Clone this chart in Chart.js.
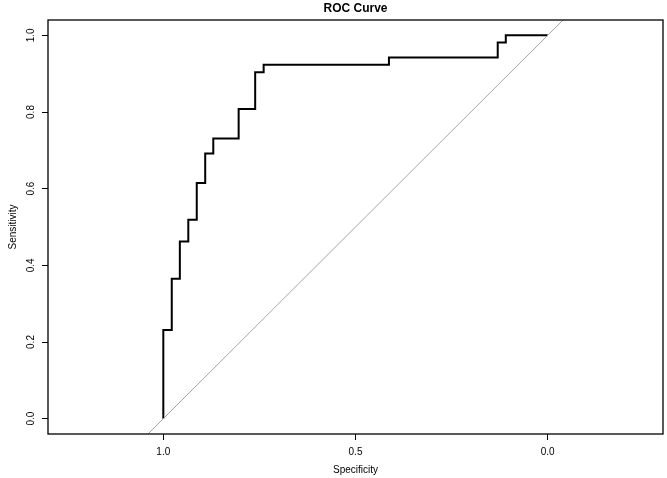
<!DOCTYPE html>
<html>
<head>
<meta charset="utf-8">
<script src="https://cdn.jsdelivr.net/npm/chart.js@4.4.1/dist/chart.umd.min.js"></script>
<style>
  html, body { margin: 0; padding: 0; background: #fff; }
  #roc { display: block; }
</style>
</head>
<body>
<canvas id="roc" width="667" height="478"></canvas>
<script>
/* --------------- ROC curve corners ------------------------------------------- */
const specificity = [1.000, 1.000, 0.978, 0.978, 0.957, 0.957, 0.935, 0.935, 0.913, 0.913,
  0.891, 0.891, 0.870, 0.870, 0.804, 0.804, 0.761, 0.761, 0.739, 0.739,
  0.413, 0.413, 0.130, 0.130, 0.109, 0.109, 0.000];
const sensitivity = [0.000, 0.231, 0.231, 0.365, 0.365, 0.462, 0.462, 0.519, 0.519, 0.615,
  0.615, 0.692, 0.692, 0.731, 0.731, 0.808, 0.808, 0.904, 0.904, 0.923,
  0.923, 0.942, 0.942, 0.981, 0.981, 1.000, 1.000];
/* --------------- Chance diagonal (sensitivity = 1 - specificity) --------------------- */
const diagSpec = [1.3, -0.3];
const diagSens = [-0.3, 1.3];
/* --------------- Tick labels --------------------- */
const xTicks = [1.0, 0.5, 0.0];
const yTicks = [0.0, 0.2, 0.4, 0.6, 0.8, 1.0];

const font = "'Liberation Sans', Arial, Helvetica, sans-serif";
const toPts = (xs, ys) => xs.map((x, i) => ({ x: x, y: ys[i] }));

/* --------------- Box around the plot, like R's box() --------------------- */
const boxPlugin = {
  id: "box",
  afterDraw(chart) {
    const { ctx, chartArea: a } = chart;
    ctx.save();
    ctx.strokeStyle = "#000";
    ctx.lineWidth = 1.3;
    ctx.strokeRect(a.left, a.top, a.right - a.left, a.bottom - a.top);
    ctx.restore();
  },
};

new Chart(document.getElementById("roc"), {
  type: "scatter",
  plugins: [boxPlugin],
  data: {
    datasets: [
      {
        data: toPts(diagSpec, diagSens),
        showLine: true,
        borderColor: "#a6a6a6",
        borderWidth: 1,
        pointRadius: 0,
      },
      {
        data: toPts(specificity, sensitivity),
        showLine: true,
        borderColor: "#000",
        borderWidth: 2,
        pointRadius: 0,
      },
    ],
  },
  options: {
    responsive: false,
    devicePixelRatio: 1,
    animation: false,
    layout: { padding: { left: 0, right: 4, top: 0, bottom: 0 } },
    plugins: {
      legend: { display: false },
      tooltip: { enabled: false },
      title: {
        display: true,
        text: "ROC Curve",
        fullSize: false,
        color: "#000",
        font: { family: font, size: 12, weight: "bold", lineHeight: 1 },
        padding: { top: 3, bottom: 5 },
      },
    },
    scales: {
      x: {
        type: "linear",
        reverse: true,
        min: -0.3,
        max: 1.3,
        afterBuildTicks: (s) => { s.ticks = xTicks.map((v) => ({ value: v })); },
        afterFit: (s) => { s.height = 44; },
        grid: { drawOnChartArea: false, drawTicks: true, tickLength: 6, color: "#000", lineWidth: 1 },
        border: { display: false },
        ticks: {
          color: "#000",
          padding: 6,
          maxRotation: 0,
          font: { family: font, size: 10 },
          callback: (v) => Number(v).toFixed(1),
        },
        title: {
          display: true,
          text: "Specificity",
          color: "#000",
          font: { family: font, size: 10 },
          padding: { top: 0, bottom: 2 },
        },
      },
      y: {
        type: "linear",
        min: -0.04,
        max: 1.04,
        afterBuildTicks: (s) => { s.ticks = yTicks.map((v) => ({ value: v })); },
        afterFit: (s) => { s.width = 48; },
        grid: { drawOnChartArea: false, drawTicks: true, tickLength: 6, color: "#000", lineWidth: 1 },
        border: { display: false },
        ticks: {
          color: "#000",
          padding: 4,
          minRotation: 90,
          maxRotation: 90,
          crossAlign: "center",
          font: { family: font, size: 10 },
          callback: (v) => Number(v).toFixed(1),
        },
        title: {
          display: true,
          text: "Sensitivity",
          color: "#000",
          font: { family: font, size: 10 },
          padding: { top: 7, bottom: 0 },
        },
      },
    },
  },
});
</script>
</body>
</html>
